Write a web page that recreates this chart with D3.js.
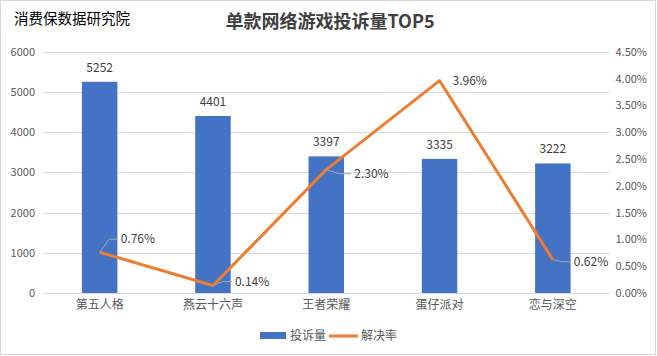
<!DOCTYPE html>
<html><head><meta charset="utf-8">
<script src="https://cdn.jsdelivr.net/npm/d3@7"></script>
<style>
html,body{margin:0;padding:0;background:#fff;}
svg{display:block;}
text{font-family:"Noto Sans CJK SC","Noto Sans",sans-serif;}
</style></head>
<body>
<svg id="c" width="657" height="356"></svg>
<script>
const categories = ["第五人格","燕云十六声","王者荣耀","蛋仔派对","恋与深空"];
const complaints = [5252,4401,3397,3335,3222];
const resolveRate = [0.76,0.14,2.30,3.96,0.62];
const leftTicks = [0,1000,2000,3000,4000,5000,6000];
const rightTicks = [0,0.5,1,1.5,2,2.5,3,3.5,4,4.5];
const title = "单款网络游戏投诉量TOP5";
const source = "消费保数据研究院";
const legendNames = ["投诉量","解决率"];

const svg = d3.select("#c");
const m={l:43,r:609.5,t:51.7,b:293};
const blue="#4472C4", orange="#ED7D31", axisCol="#595959", lblCol="#404040", grid="#D9D9D9";

svg.append("rect").attr("x",0.5).attr("y",0.5).attr("width",655).attr("height",354)
  .attr("fill","#fff").attr("stroke","#D9D9D9");

const x=d3.scaleBand().domain(categories).range([m.l,m.r]).paddingInner(0.687).paddingOuter(0.3435);
const y=d3.scaleLinear().domain([0,6000]).range([m.b,m.t]);
const y2=d3.scaleLinear().domain([0,4.5]).range([m.b,m.t]);

svg.append("g").selectAll("line").data(leftTicks).join("line")
  .attr("x1",m.l).attr("x2",m.r).attr("y1",d=>Math.round(y(d))+0.5).attr("y2",d=>Math.round(y(d))+0.5)
  .attr("stroke",grid).attr("stroke-width",1);

const la=svg.append("g").attr("transform",`translate(${m.l-8},0)`)
  .call(d3.axisLeft(y).tickValues(leftTicks).tickSize(0).tickPadding(0).tickFormat(d3.format("d")));
la.select(".domain").remove();
la.selectAll("text").attr("fill",axisCol).attr("font-size",11);

const ra=svg.append("g").attr("transform",`translate(${m.r+6},0)`)
  .call(d3.axisRight(y2).tickValues(rightTicks).tickSize(0).tickPadding(0).tickFormat(d=>d.toFixed(2)+"%"));
ra.select(".domain").remove();
ra.selectAll("text").attr("fill",axisCol).attr("font-size",11);

const ba=svg.append("g").attr("transform",`translate(0,${m.b+5})`)
  .call(d3.axisBottom(x).tickSize(0).tickPadding(0));
ba.select(".domain").remove();
ba.selectAll("text").attr("fill",axisCol).attr("font-size",12).attr("dy","0.9em");

svg.append("g").selectAll("rect").data(complaints).join("rect")
  .attr("x",(d,i)=>x(categories[i])).attr("width",x.bandwidth())
  .attr("y",d=>y(d)).attr("height",d=>m.b-y(d)).attr("fill",blue);

svg.append("g").selectAll("text").data(complaints).join("text")
  .attr("x",(d,i)=>x(categories[i])+x.bandwidth()/2).attr("y",d=>y(d)-10)
  .attr("text-anchor","middle").attr("fill",lblCol).attr("font-size",12).text(d=>d);

const cx=i=>x(categories[i])+x.bandwidth()/2;
const line=d3.line().x((d,i)=>cx(i)).y(d=>y2(d));
svg.append("path").datum(resolveRate).attr("d",line).attr("fill","none")
  .attr("stroke",orange).attr("stroke-width",3).attr("stroke-linejoin","round");

const off=[[21,-13],[22,-4],[28,4],[13,0],[21,2]];
const leader=[true,true,true,false,true];
const lg=svg.append("g");
resolveRate.forEach((v,i)=>{
  const px=cx(i), py=y2(v), lx=px+off[i][0], ly=py+off[i][1];
  if(leader[i]){
    lg.append("polyline").attr("points",`${px},${py} ${px+(lx-px)*0.45},${ly} ${lx-3},${ly}`)
      .attr("fill","none").attr("stroke","#A6A6A6").attr("stroke-width",1);
  }
  lg.append("text").attr("x",lx).attr("y",ly).attr("dy","0.35em")
    .attr("fill",lblCol).attr("font-size",12).text(v.toFixed(2)+"%");
});

svg.append("text").attr("x",330).attr("y",28).attr("text-anchor","middle")
  .attr("font-size",18).attr("font-weight","bold").attr("fill","#404040").text(title);
svg.append("text").attr("x",14).attr("y",24).attr("font-size",14.5).attr("fill","#000").text(source);

const leg=svg.append("g");
leg.append("rect").attr("x",260).attr("y",332).attr("width",26).attr("height",7).attr("fill",blue);
leg.append("text").attr("x",290).attr("y",336).attr("dy","0.35em").attr("font-size",12).attr("fill",axisCol).text(legendNames[0]);
leg.append("line").attr("x1",329).attr("x2",358).attr("y1",336).attr("y2",336).attr("stroke",orange).attr("stroke-width",3);
leg.append("text").attr("x",361).attr("y",336).attr("dy","0.35em").attr("font-size",12).attr("fill",axisCol).text(legendNames[1]);
</script>
</body></html>
